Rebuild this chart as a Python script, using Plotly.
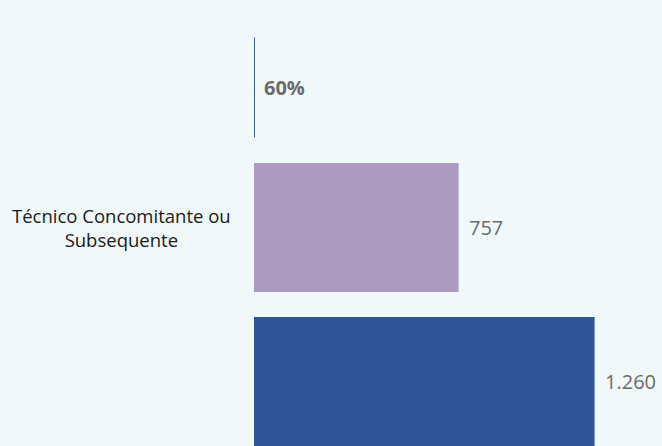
import plotly.graph_objects as go

# Data
categories = ["", "Técnico Concomitante ou<br>Subsequente", ""]
values = [0.6, 757, 1260]
value_labels = ["60%", "757", "1.260"]

# Styles (not data)
row_pos = [1 - 140 / 154, 1, 2]
bar_widths = [99 / 154, 129 / 154, 129 / 154]
bar_colors = ["#1F3A7A", "#AB9BC0", "#2F5597"]
label_bold = [True, False, False]

W, H = 662, 446
left = 254
scale = 0.2703  # px per unit
xmax = (W - left) / scale

fig = go.Figure()
fig.add_trace(go.Bar(
    x=values, y=row_pos, orientation="h", width=bar_widths,
    marker=dict(color=bar_colors,
                line=dict(color=["#1F3A7A", "rgba(0,0,0,0)", "rgba(0,0,0,0)"], width=[1.2, 0, 0])),
    hoverinfo="skip",
))

annotations = []
for v, y, t, b in zip(values, row_pos, value_labels, label_bold):
    annotations.append(dict(
        x=v, y=y, xref="x", yref="y", text=f"<b>{t}</b>" if b else t,
        showarrow=False, xanchor="left", yanchor="middle", xshift=8,
        font=dict(family="Open Sans", size=20, color="#6B6B6B"),
    ))
for c, y in zip(categories, row_pos):
    if c:
        annotations.append(dict(
            x=(121 - left) / (W - left), y=y, xref="paper", yref="y", text=c,
            showarrow=False, xanchor="center", yanchor="middle", align="center",
            font=dict(family="Open Sans", size=18.5, color="#1A1A1A"),
        ))

v0 = 1 - 227.5 / 154
v1 = v0 + H / 154
fig.update_layout(
    width=W, height=H,
    margin=dict(l=left, r=0, t=0, b=0),
    paper_bgcolor="#F1F8FA", plot_bgcolor="#F1F8FA",
    showlegend=False,
    xaxis=dict(range=[0, xmax], visible=False, fixedrange=True),
    yaxis=dict(range=[v1, v0], visible=False, fixedrange=True),
    annotations=annotations,
)
fig.write_html(
    "out.html",
    config={"displayModeBar": False, "staticPlot": True},
    post_script="document.body.style.margin='0';document.body.style.overflow='hidden';",
)
